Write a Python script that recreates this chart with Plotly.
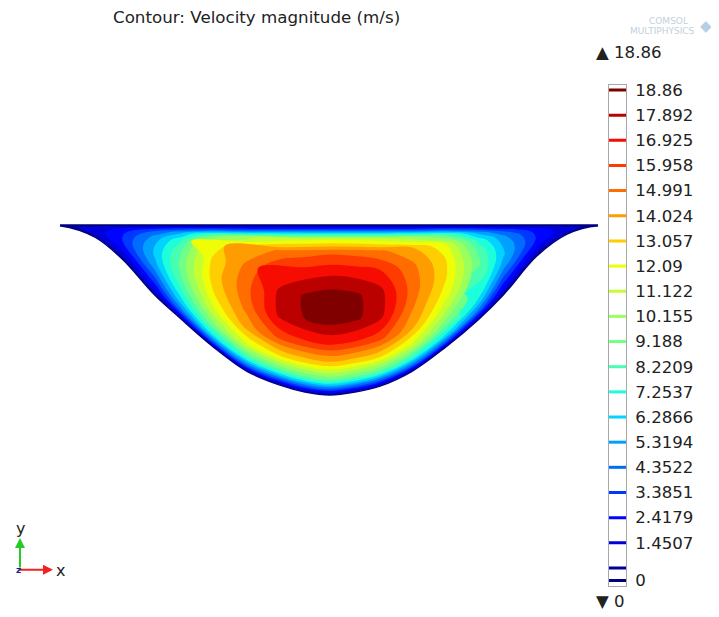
import plotly.graph_objects as go

# ---------------- data ----------------
title_text = "Contour: Velocity magnitude (m/s)"

# channel cross-section: columns across the width and bed depth below the free surface
col_x = [0, 35, 62, 95, 120, 153, 187, 220, 245, 270, 295, 320, 352, 385, 418, 443, 477, 507, 538]
col_depth = [0.5, 12, 34, 71, 94, 123, 148, 162, 169, 172, 169, 163, 148, 124, 96, 71, 31, 9, 0.5]
# relative depth of each row of the speed table (0 = top wall, 1 = bed)
depth_frac = [0, 0.03, 0.08, 0.16, 0.28, 0.42, 0.56, 0.7, 0.82, 0.91, 0.97, 1]

# velocity magnitude (m/s): one row per depth_frac, one value per column
speed = [
    [0, 0, 0, 0, 0, 0, 0, 0, 0, 0, 0, 0, 0, 0, 0, 0, 0, 0, 0],
    [0, 0.2, 0.6, 1.6, 2.2, 2.8, 3.0, 3.3, 3.4, 3.5, 3.4, 3.3, 3.0, 2.8, 2.2, 1.6, 0.6, 0.15, 0],
    [0, 0.4, 1.3, 3.3, 5.0, 8.0, 9.4, 10.2, 10.5, 10.8, 10.6, 10.2, 9.4, 8.0, 5.0, 3.3, 1.3, 0.3, 0],
    [0, 0.6, 1.9, 4.6, 7.0, 11.4, 13.3, 14.2, 14.5, 14.8, 14.6, 14.2, 13.3, 11.3, 7.0, 4.6, 1.9, 0.5, 0],
    [0, 0.8, 2.3, 5.3, 8.0, 12.3, 14.3, 16.0, 16.4, 16.7, 16.5, 16.0, 14.3, 12.2, 8.1, 5.3, 2.2, 0.7, 0],
    [0, 0.9, 2.4, 5.5, 8.4, 12.5, 14.7, 17.2, 18.0, 18.4, 18.1, 17.3, 14.6, 12.3, 8.5, 5.5, 2.3, 0.8, 0],
    [0, 0.9, 2.2, 5.0, 8.0, 12.0, 14.4, 17.2, 17.9, 18.3, 18.1, 17.3, 14.2, 11.7, 8.2, 5.0, 2.1, 0.8, 0],
    [0, 0.8, 1.6, 3.9, 7.0, 10.8, 13.4, 15.3, 15.8, 16.1, 15.9, 15.4, 13.3, 10.4, 7.2, 3.9, 1.6, 0.7, 0],
    [0, 0.6, 1.0, 2.6, 5.6, 8.8, 10.9, 12.0, 12.3, 12.6, 12.4, 12.1, 10.9, 8.5, 5.8, 2.6, 1.0, 0.5, 0],
    [0, 0.4, 0.6, 1.5, 3.8, 6.2, 7.1, 7.8, 8.1, 8.4, 8.2, 7.9, 7.1, 6.0, 3.9, 1.5, 0.6, 0.3, 0],
    [0, 0.15, 0.2, 0.5, 1.6, 2.8, 3.1, 3.0, 3.1, 3.2, 3.1, 3.0, 3.1, 2.7, 1.6, 0.5, 0.2, 0.1, 0],
    [0, 0, 0, 0, 0, 0, 0, 0, 0, 0, 0, 0, 0, 0, 0, 0, 0, 0, 0],
]

# contour levels shown in the legend
levels = [0.4836, 1.4507, 2.4179, 3.3851, 4.3522, 5.3194, 6.2866, 7.2537, 8.2209, 9.188,
          10.155, 11.122, 12.09, 13.057, 14.024, 14.991, 15.958, 16.925, 17.892, 18.86]
level_labels = ["", "1.4507", "2.4179", "3.3851", "4.3522", "5.3194", "6.2866", "7.2537",
                "8.2209", "9.188", "10.155", "11.122", "12.09", "13.057", "14.024", "14.991",
                "15.958", "16.925", "17.892", "18.86"]
range_min = 0
range_max = 18.86


# ---------------- colour table (jet) ----------------
def jet(t):
    t = min(max(t, 0.0), 1.0)
    segs = {
        'r': [(0.0, 0.0), (0.35, 0.0), (0.66, 1.0), (0.89, 1.0), (1.0, 0.5)],
        'g': [(0.0, 0.0), (0.125, 0.0), (0.375, 1.0), (0.64, 1.0), (0.91, 0.0), (1.0, 0.0)],
        'b': [(0.0, 0.5), (0.11, 1.0), (0.34, 1.0), (0.65, 0.0), (1.0, 0.0)],
    }
    out = []
    for ch in 'rgb':
        pts = segs[ch]
        v = pts[-1][1]
        for (x0, y0), (x1, y1) in zip(pts[:-1], pts[1:]):
            if x0 <= t <= x1:
                v = y0 + (y1 - y0) * (t - x0) / (x1 - x0)
                break
        out.append(round(255 * v))
    return 'rgb(%d,%d,%d)' % tuple(out)


n_lev = len(levels)
step = (levels[-1] - levels[0]) / (n_lev - 1)
# band above level k is painted with the colour of level k+1
cols = [jet(levels[0] / range_max)] + [jet(levels[j] / range_max) for j in range(1, n_lev)] + [jet(1.0)]
colorscale = [[j / n_lev, cols[j]] for j in range(n_lev + 1)]

# carpet geometry (surface at 0, depth downwards)
X = [[col_x[j] for j in range(len(col_x))] for i in range(len(depth_frac))]
Y = [[-depth_frac[i] * col_depth[j] for j in range(len(col_x))] for i in range(len(depth_frac))]

navy = jet(0.0)
axis_hidden = dict(showgrid=False, showline=False, showticklabels='none', minorgridcount=0,
                   startline=False, endline=False, smoothing=1)

fig = go.Figure()
fig.add_trace(go.Carpet(
    a=col_x, b=depth_frac, x=X, y=Y, carpet='sec',
    aaxis=dict(axis_hidden, smoothing=1),
    baxis=dict(axis_hidden, smoothing=0, startline=True, endline=True,
               startlinecolor=navy, endlinecolor=navy, startlinewidth=2, endlinewidth=1.5),
))
fig.add_trace(go.Contourcarpet(
    a=col_x, b=depth_frac, z=speed, carpet='sec',
    autocontour=False,
    contours=dict(start=levels[0], end=levels[-1], size=step, coloring='fill', showlines=False),
    colorscale=colorscale, zauto=False,
    zmin=levels[0] - step / 2, zmax=levels[0] + (n_lev - 0.5) * step,
    showscale=False, line=dict(width=0),
))

# legend (COMSOL style: level lines in a box)
leg_vals = [range_min] + levels
leg_cols = [jet(v / range_max) for v in leg_vals]
fig.add_trace(go.Scatter(
    x=[0.5] * len(leg_vals), y=leg_vals, xaxis='x2', yaxis='y2', mode='markers',
    marker=dict(symbol='line-ew', size=15, line=dict(width=3, color=leg_cols)),
    hoverinfo='skip', showlegend=False,
))

font = "DejaVu Sans, Verdana, sans-serif"
W, H = 719, 617
OFF = 8  # the page body adds an 8 px margin; place everything 8 px up/left to compensate


def px(x):
    return (x - OFF) / W


def py(y):
    return 1 - (y - OFF) / H


fig.update_layout(
    width=W, height=H, margin=dict(l=0, r=0, t=0, b=0),
    paper_bgcolor='white', plot_bgcolor='white', showlegend=False,
    xaxis=dict(domain=[0, 1], range=[-60 + OFF, W - 60 + OFF], visible=False),
    yaxis=dict(domain=[0, 1], range=[224 - OFF - H, 224 - OFF], visible=False),
    xaxis2=dict(domain=[px(609), px(626)], range=[0, 1], anchor='y2', showline=True, mirror=True,
                linecolor='#a8a8a8', linewidth=1, showgrid=False, zeroline=False,
                showticklabels=False, ticks=''),
    yaxis2=dict(domain=[py(590), py(82)], range=[-0.228, 19.05], anchor='x2', side='right',
                showline=True, mirror=True, linecolor='#a8a8a8', linewidth=1, showgrid=False,
                zeroline=False, tickvals=leg_vals, ticktext=["0"] + level_labels,
                ticks='outside', ticklen=5, tickcolor='rgba(0,0,0,0)',
                tickfont=dict(family=font, size=16.6, color='#222222')),
    font=dict(family=font),
)

ann = []
ann.append(dict(text=title_text, x=px(111), y=py(13.5), xref='paper', yref='paper',
                xanchor='left', yanchor='middle', showarrow=False,
                font=dict(family=font, size=16.7, color='#222222')))
ann.append(dict(text="▲ %s" % level_labels[-1], x=px(594), y=py(49), xref='paper', yref='paper',
                xanchor='left', yanchor='middle', showarrow=False,
                font=dict(family=font, size=16.6, color='#222222')))
ann.append(dict(text="▼ %g" % range_min, x=px(594), y=py(605), xref='paper', yref='paper',
                xanchor='left', yanchor='middle', showarrow=False,
                font=dict(family=font, size=16.6, color='#222222')))
# COMSOL logo (faint)
ann.append(dict(text="COMSOL", x=px(690), y=py(17), xref='paper', yref='paper',
                xanchor='right', yanchor='middle', showarrow=False,
                font=dict(family=font, size=9, color='#c3cfdb')))
ann.append(dict(text="MULTIPHYSICS", x=px(697), y=py(27), xref='paper', yref='paper',
                xanchor='right', yanchor='middle', showarrow=False,
                font=dict(family=font, size=9, color='#c3cfdb')))
ann.append(dict(text="◆", x=px(706), y=py(22), xref='paper', yref='paper',
                xanchor='center', yanchor='middle', showarrow=False,
                font=dict(family=font, size=15, color='#b5cfe6')))
# axis triad
ann.append(dict(text="", x=px(20), y=py(541), xref='paper', yref='paper', ax=0, ay=31,
                axref='pixel', ayref='pixel', showarrow=True, arrowhead=2, arrowsize=1,
                arrowwidth=2, arrowcolor='#22cc22'))
ann.append(dict(text="", x=px(53), y=py(573), xref='paper', yref='paper', ax=-35, ay=0,
                axref='pixel', ayref='pixel', showarrow=True, arrowhead=2, arrowsize=1,
                arrowwidth=2, arrowcolor='#ee2222'))
ann.append(dict(text="y", x=px(20), y=py(531), xref='paper', yref='paper', xanchor='center',
                yanchor='middle', showarrow=False, font=dict(family=font, size=16, color='#222222')))
ann.append(dict(text="x", x=px(60), y=py(574), xref='paper', yref='paper', xanchor='center',
                yanchor='middle', showarrow=False, font=dict(family=font, size=16, color='#222222')))
ann.append(dict(text="<b>z</b>", x=px(18), y=py(573), xref='paper', yref='paper', xanchor='center',
                yanchor='middle', showarrow=False, font=dict(family=font, size=9, color='#1a1aa0')))
fig.update_layout(annotations=ann)

fig.write_html("out.html")
